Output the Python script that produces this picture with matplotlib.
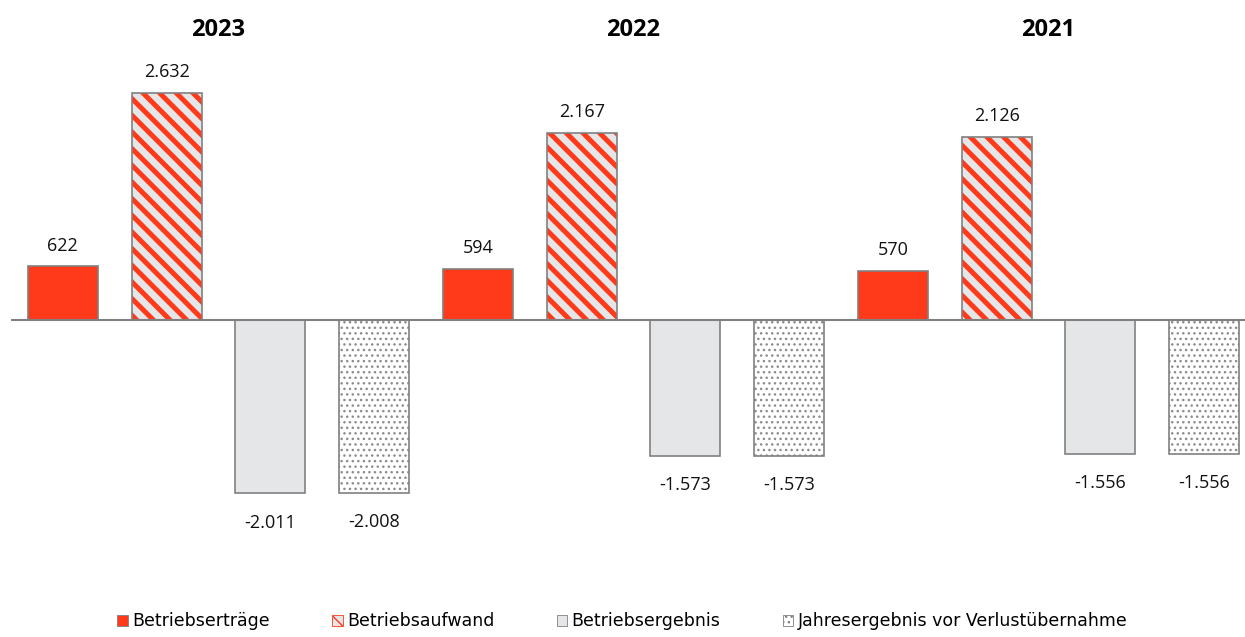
import matplotlib
matplotlib.use("Agg")
import matplotlib.pyplot as plt
from matplotlib.patches import Patch

plt.rcParams["font.family"] = ["Open Sans", "DejaVu Sans"]

years = ["2023", "2022", "2021"]
series = ["Betriebserträge", "Betriebsaufwand", "Betriebsergebnis",
          "Jahresergebnis vor Verlustübernahme"]
# values per year, in series order
values = {
    "2023": [622, 2632, -2011, -2008],
    "2022": [594, 2167, -1573, -1573],
    "2021": [570, 2126, -1556, -1556],
}

red = "#ff3a1a"
light = "#e5e6e8"
edge = "#808080"

fig = plt.figure(figsize=(12.45, 6.37), dpi=100)
ax = fig.add_axes([11 / 1245, 57 / 637, 1.0, 520 / 637])

width = 0.675


def fmt(v):
    s = f"{abs(v):,}".replace(",", ".")
    return ("-" if v < 0 else "") + s


pos = 0
for y in years:
    for i, v in enumerate(values[y]):
        if i == 0:
            ax.bar(pos, v, width, color=red, edgecolor=edge, linewidth=1.2, zorder=2)
        elif i == 1:
            plt.rcParams["hatch.linewidth"] = 3.6
            ax.bar(pos, v, width, color=light, edgecolor=red, hatch="\\\\", linewidth=0, zorder=2)
            ax.bar(pos, v, width, color="none", edgecolor=edge, linewidth=1.2, zorder=3)
        elif i == 2:
            ax.bar(pos, v, width, color=light, edgecolor=edge, linewidth=1.2, zorder=2)
        else:
            plt.rcParams["hatch.linewidth"] = 1.0
            ax.bar(pos, v, width, color="white", edgecolor="#8c8c8c", hatch="...", linewidth=0, zorder=2)
            ax.bar(pos, v, width, color="none", edgecolor=edge, linewidth=1.2, zorder=3)
        off = 15 if v > 0 else -21
        ax.annotate(fmt(v), (pos, v), xytext=(0, off), textcoords="offset points",
                    ha="center", va="center", fontsize=13, color="#111111")
        pos += 1

for k, y in enumerate(years):
    ax.text(4 * k + 1.5, 1.058, y, transform=ax.get_xaxis_transform(),
            ha="center", va="center", fontsize=17, fontweight="bold")

ax.axhline(0, color=edge, linewidth=1.5, zorder=4)
ax.set_xlim(-0.5, 11.5)
ax.set_ylim(-3016, 3016)
ax.axis("off")

plt.rcParams["hatch.linewidth"] = 1.0
handles = [
    Patch(facecolor=red, edgecolor=edge, linewidth=0.6),
    Patch(facecolor=light, edgecolor=red, hatch="\\\\", linewidth=0.6),
    Patch(facecolor=light, edgecolor=edge, linewidth=0.6),
    Patch(facecolor="white", edgecolor=edge, hatch="...", linewidth=0.6),
]
fig.legend(handles, series, loc="lower center", bbox_to_anchor=(0.5, -0.014),
           ncol=4, frameon=False, prop={"family": "DejaVu Sans", "size": 12.5},
           handlelength=0.6, handleheight=0.6, handletextpad=0.25, columnspacing=3.6)

fig.savefig("out.png", dpi=100)
